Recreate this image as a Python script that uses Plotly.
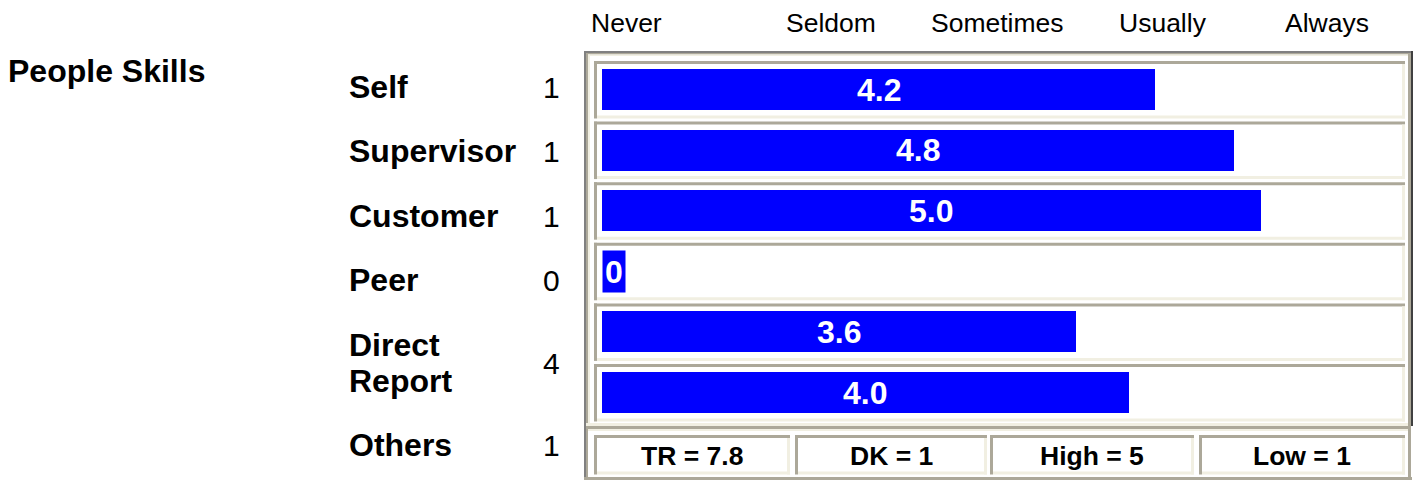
import plotly.graph_objects as go

# ---------------- data ----------------
section_title = "People Skills"
raters = ["Self", "Supervisor", "Customer", "Peer", "Direct Report", "Others"]
rater_counts = [1, 1, 1, 0, 4, 1]
bar_values = [4.2, 4.8, 5.0, 0, 3.6, 4.0]
bar_labels = ["4.2", "4.8", "5.0", "0", "3.6", "4.0"]
scale_labels = ["Never", "Seldom", "Sometimes", "Usually", "Always"]
footer_labels = ["TR = 7.8", "DK = 1", "High = 5", "Low = 1"]

# ---------------- geometry (pixels) ----------------
W, H = 1414, 481
PX_PER_UNIT = 131.7
X0_PX = 602
ROW0_PX = 89.5
ROW_PITCH = 60.6
BAR_H_PX = 41

BLUE = "#0000FF"
GREY = "#ACA899"
CREAM = "#F1EFE2"
DARK = "#808080"
FONT = "Liberation Sans, Arial, Helvetica, sans-serif"
LABEL_SIZE = 32
BAR_TEXT_SIZE = 32
COUNT_SIZE = 30
HEADER_SIZE = 26.5
FOOTER_SIZE = 26.5


def px(x):
    return x / W


def py(y):
    return 1 - y / H


shapes = []


def rect(x0, y0, x1, y1, color):
    shapes.append(dict(type="rect", xref="paper", yref="paper",
                       x0=px(x0), x1=px(x1), y0=py(y1), y1=py(y0),
                       fillcolor=color, line=dict(width=0), layer="above"))


def cell(x0, y0, x1, y1, t=3):
    rect(x0, y0, x1, y0 + t, GREY)
    rect(x0, y0, x0 + t, y1, GREY)
    rect(x0 + t, y1 - t, x1, y1, CREAM)
    rect(x1 - t, y0 + t, x1, y1, CREAM)


# outer frame
rect(584, 51, 586, 480, DARK)
rect(584, 51, 1412, 53, DARK)
rect(586, 53, 588, 479, GREY)
rect(586, 53, 1410, 54.5, GREY)
rect(588, 54.5, 590, 426, CREAM)
rect(588, 54.5, 1408, 56, CREAM)
rect(1408, 53, 1411, 480, GREY)
rect(1411, 51, 1413, 426, "#404040")
rect(584, 477, 1412, 480, GREY)
# separator between rows and footer
rect(586, 423, 1408, 426, CREAM)
rect(586, 426, 1408, 429, GREY)
rect(588, 429, 1408, 431, CREAM)

# row cells
for i in range(len(bar_values)):
    top = 61 + ROW_PITCH * i
    cell(594, top, 1405, top + 57.5)

# footer cells
footer_x = [(594, 790), (795, 987), (990, 1194), (1199, 1405)]
for (a, b) in footer_x:
    cell(a, 435, b, 474.5)

# ---------------- traces ----------------
rows = list(range(len(bar_values)))
fig = go.Figure(go.Bar(
    x=bar_values, y=rows, orientation="h",
    marker=dict(color=BLUE, line=dict(width=0)),
    width=BAR_H_PX / ROW_PITCH, hoverinfo="skip",
))

annotations = []
# bar value labels
for r, v, lab in zip(rows, bar_values, bar_labels):
    if v > 0:
        annotations.append(dict(x=v / 2, y=r, xref="x", yref="y", text=lab,
                                showarrow=False, xanchor="center", yanchor="middle",
                                font=dict(family=FONT, size=BAR_TEXT_SIZE, color="white", weight="bold")))
    else:
        annotations.append(dict(x=v, y=r, xref="x", yref="y", text=lab,
                                showarrow=False, xanchor="left", yanchor="middle",
                                bgcolor=BLUE, borderpad=0, width=22, height=BAR_H_PX,
                                font=dict(family=FONT, size=BAR_TEXT_SIZE, color="white", weight="bold")))

# section title
annotations.append(dict(x=px(6), y=py(71), xref="paper", yref="paper", text=section_title,
                        showarrow=False, xanchor="left", yanchor="middle",
                        font=dict(family=FONT, size=LABEL_SIZE, color="black", weight="bold")))

# rater labels and counts
LABEL_X = 346.5
label_y = [87, 151, 216, 280, 363, 445]
for name, cnt, yy in zip(raters, rater_counts, label_y):
    if name == "Direct Report":
        first, second = name.split(" ")
        for part, yline in ((first, 345), (second, 381)):
            annotations.append(dict(x=px(LABEL_X), y=py(yline), xref="paper", yref="paper", text=part,
                                    showarrow=False, xanchor="left", yanchor="middle",
                                    font=dict(family=FONT, size=LABEL_SIZE, color="black", weight="bold")))
    else:
        annotations.append(dict(x=px(LABEL_X), y=py(yy), xref="paper", yref="paper", text=name,
                                showarrow=False, xanchor="left", yanchor="middle",
                                font=dict(family=FONT, size=LABEL_SIZE, color="black", weight="bold")))
    annotations.append(dict(x=px(551), y=py(yy), xref="paper", yref="paper", text=str(cnt),
                            showarrow=False, xanchor="center", yanchor="middle",
                            font=dict(family=FONT, size=COUNT_SIZE, color="black")))

# scale header
scale_x = [626, 831, 998, 1163, 1327]
for lab, xx in zip(scale_labels, scale_x):
    annotations.append(dict(x=px(xx), y=py(23), xref="paper", yref="paper", text=lab,
                            showarrow=False, xanchor="center", yanchor="middle",
                            font=dict(family=FONT, size=HEADER_SIZE, color="black")))

# footer
for lab, (a, b) in zip(footer_labels, footer_x):
    annotations.append(dict(x=px((a + b) / 2), y=py(456), xref="paper", yref="paper", text=lab,
                            showarrow=False, xanchor="center", yanchor="middle",
                            font=dict(family=FONT, size=FOOTER_SIZE, color="black", weight="bold")))

x_range = [-X0_PX / PX_PER_UNIT, (W - X0_PX) / PX_PER_UNIT]
y_range = [(H - ROW0_PX) / ROW_PITCH, -ROW0_PX / ROW_PITCH]

fig.update_layout(
    width=W, height=H, margin=dict(l=0, r=0, t=0, b=0, pad=0),
    paper_bgcolor="white", plot_bgcolor="rgba(0,0,0,0)",
    showlegend=False, bargap=0,
    xaxis=dict(range=x_range, visible=False, fixedrange=True),
    yaxis=dict(range=y_range, visible=False, fixedrange=True),
    shapes=shapes, annotations=annotations,
)

fig.write_html(
    "out.html",
    config={"displayModeBar": False},
    post_script="document.body.style.margin='0';document.body.style.overflow='hidden';",
)
